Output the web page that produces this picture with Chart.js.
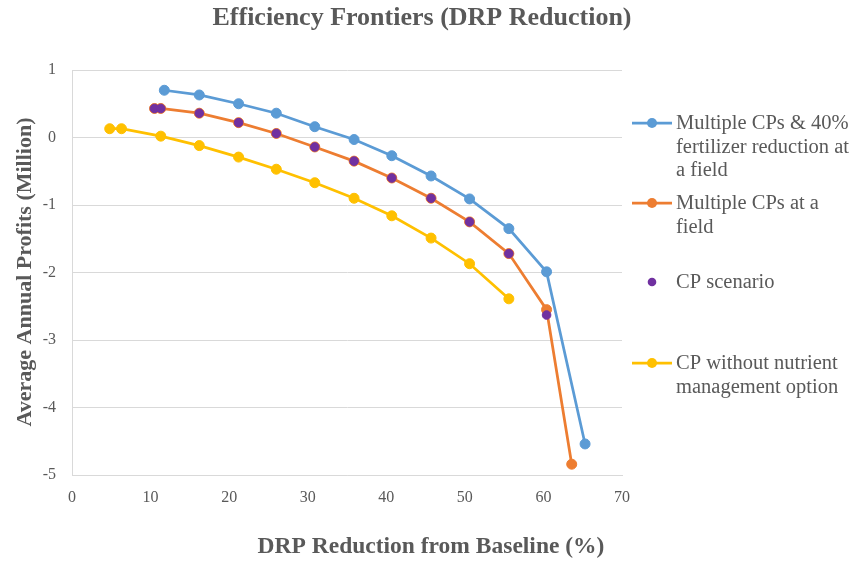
<!DOCTYPE html>
<html><head><meta charset="utf-8">
<script src="https://cdn.jsdelivr.net/npm/chart.js@4/dist/chart.umd.min.js"></script>
<style>html,body{margin:0;padding:0;background:#fff}#wrap{width:857px;height:561px;position:relative}</style>
</head><body><div id="wrap"><canvas id="c" width="857" height="561"></canvas></div>
<script>
const chartTitle = 'Efficiency Frontiers (DRP Reduction)';
const xTitle = 'DRP Reduction from Baseline (%)';
const yTitle = 'Average Annual Profits (Million)';

const blueLabel = ['Multiple CPs & 40%', 'fertilizer reduction at', 'a field'];
const blueX = [11.75, 16.2, 21.2, 26.0, 30.9, 35.9, 40.7, 45.7, 50.6, 55.6, 60.4, 65.3];
const blueY = [0.70, 0.63, 0.50, 0.36, 0.16, -0.03, -0.27, -0.57, -0.91, -1.35, -1.99, -4.54];

const orangeLabel = ['Multiple CPs at a', 'field'];
const orangeX = [10.5, 11.3, 16.2, 21.2, 26.0, 30.9, 35.9, 40.7, 45.7, 50.6, 55.6, 60.4, 63.6];
const orangeY = [0.43, 0.43, 0.36, 0.22, 0.06, -0.14, -0.35, -0.60, -0.90, -1.25, -1.72, -2.55, -4.84];

const purpleLabel = ['CP scenario'];
const purpleX = [10.5, 11.3, 16.2, 21.2, 26.0, 30.9, 35.9, 40.7, 45.7, 50.6, 55.6, 60.4];
const purpleY = [0.43, 0.43, 0.36, 0.22, 0.06, -0.14, -0.35, -0.60, -0.90, -1.25, -1.72, -2.63];

const yellowLabel = ['CP without nutrient', 'management option'];
const yellowX = [4.8, 6.3, 11.3, 16.2, 21.2, 26.0, 30.9, 35.9, 40.7, 45.7, 50.6, 55.6];
const yellowY = [0.13, 0.13, 0.02, -0.12, -0.29, -0.47, -0.67, -0.90, -1.16, -1.49, -1.87, -2.39];

const xTicks = [0, 10, 20, 30, 40, 50, 60, 70];
const yTicks = [1, 0, -1, -2, -3, -4, -5];

const pts = (xs, ys) => xs.map((x, i) => ({x: x, y: ys[i]}));
const TXT = '#595959';
const SERIF = '"Liberation Serif", "Times New Roman", serif';

const mk = (label, xs, ys, color, line, order, r) => ({
  label: label.join(' '), legendLines: label, data: pts(xs, ys), showLine: line,
  borderColor: color, backgroundColor: color, borderWidth: 2.75,
  pointRadius: r, pointHoverRadius: r, pointBorderWidth: 1, pointBorderColor: color,
  pointBackgroundColor: color, tension: 0, order: order
});

const datasets = [
  mk(blueLabel, blueX, blueY, '#5B9BD5', true, 3, 5),
  mk(orangeLabel, orangeX, orangeY, '#ED7D31', true, 2, 5),
  mk(purpleLabel, purpleX, purpleY, '#7030A0', false, 0, 4.3),
  mk(yellowLabel, yellowX, yellowY, '#FFC000', true, 1, 5)
];

const decor = {
  id: 'decor',
  afterDraw(chart) {
    const ctx = chart.ctx;
    ctx.save();
    ctx.fillStyle = TXT;
    ctx.textAlign = 'center';
    ctx.textBaseline = 'alphabetic';
    ctx.font = 'bold 26px ' + SERIF;
    ctx.fillText(chartTitle, 422, 25);
    ctx.font = 'bold 23.5px ' + SERIF;
    ctx.fillText(xTitle, 431, 553);
    ctx.save();
    ctx.translate(31, 272);
    ctx.rotate(-Math.PI / 2);
    ctx.font = 'bold 22px ' + SERIF;
    ctx.fillText(yTitle, 0, 0);
    ctx.restore();
    // legend
    const rows = [123, 203, 282, 363];
    const lh = 23.5;
    ctx.textAlign = 'left';
    ctx.textBaseline = 'middle';
    ctx.font = '20.5px ' + SERIF;
    chart.data.datasets.forEach((ds, i) => {
      const y = rows[i];
      if (ds.showLine) {
        ctx.strokeStyle = ds.borderColor;
        ctx.lineWidth = 2.75;
        ctx.beginPath(); ctx.moveTo(632, y); ctx.lineTo(672, y); ctx.stroke();
      }
      ctx.fillStyle = ds.backgroundColor;
      ctx.beginPath(); ctx.arc(652, y, ds.showLine ? 5 : 4.3, 0, Math.PI * 2); ctx.fill();
      ctx.fillStyle = TXT;
      ds.legendLines.forEach((t, k) => ctx.fillText(t, 676, y + k * lh + 1));
    });
    ctx.restore();
  }
};

new Chart(document.getElementById('c'), {
  type: 'scatter',
  data: {datasets: datasets},
  options: {
    responsive: false, animation: false,
    layout: {padding: {top: 70, right: 235, left: 0, bottom: 0}},
    plugins: {legend: {display: false}, title: {display: false}, tooltip: {enabled: false}},
    scales: {
      x: {
        type: 'linear', min: 0, max: 70,
        afterBuildTicks: s => { s.ticks = xTicks.map(v => ({value: v})); },
        afterFit: s => { s.height = 561 - 475; },
        grid: {display: false, drawTicks: false},
        border: {display: true, color: '#D9D9D9', width: 1},
        ticks: {color: TXT, padding: 13, font: {family: SERIF, size: 16}, maxRotation: 0}
      },
      y: {
        type: 'linear', min: -5, max: 1,
        afterBuildTicks: s => { s.ticks = yTicks.map(v => ({value: v})); },
        afterFit: s => { s.width = 72; },
        grid: {color: '#D9D9D9', lineWidth: 1, drawTicks: false},
        border: {display: true, color: '#D9D9D9', width: 1},
        ticks: {color: TXT, padding: 16, font: {family: SERIF, size: 16}}
      }
    }
  },
  plugins: [decor]
});
</script>
</body></html>
